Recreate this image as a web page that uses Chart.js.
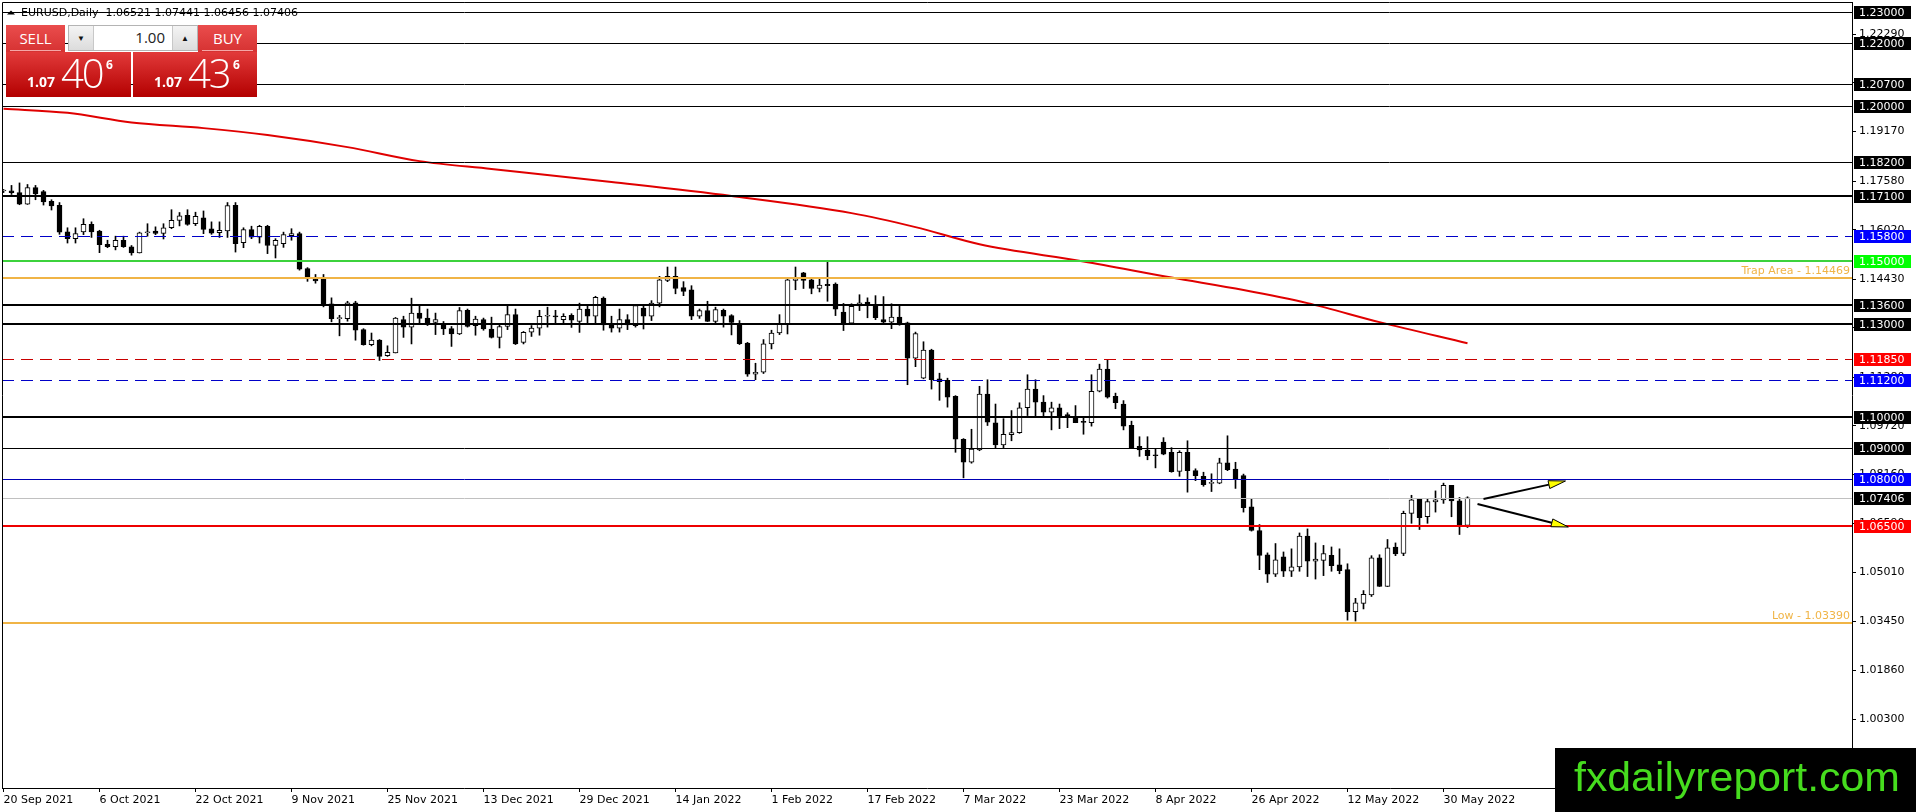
<!DOCTYPE html>
<html>
<head>
<meta charset="utf-8">
<title>EURUSD Daily</title>
<script src="https://cdn.jsdelivr.net/npm/chart.js@4.4.1/dist/chart.umd.min.js"></script>
<style>
  html, body { margin: 0; padding: 0; background: #fff; overflow: hidden; }
  #wrap { position: relative; width: 1916px; height: 812px; }
  #chart { position: absolute; left: 0; top: 0; }
  #panel { position: absolute; left: 0; top: 0; font-family: 'Open Sans', sans-serif; }
  #panel .btn { position: absolute; top: 25px; width: 59px; height: 27px; color: #fff;
    background: linear-gradient(#ea4d4d, #d63232); }
  #panel .btn span { position: absolute; left: 0; right: 0; top: 6px; text-align: center; font-size: 15px; line-height: 1; }
  #panel .btn::after { content: ''; position: absolute; left: 4px; right: 4px; bottom: 1px; height: 1px; background: rgba(255, 205, 205, 0.75); }
  #sell { left: 6px; }
  #buy { left: 198px; }
  #spin { position: absolute; left: 68px; top: 25px; width: 128px; height: 24px; border: 1px solid #b4b4b4; background: #fff; }
  #spin .arr { position: absolute; top: 0; width: 24px; height: 24px; background: linear-gradient(#f4f4f4, #dcdcdc);
    font-size: 8px; line-height: 24px; text-align: center; color: #111; }
  #spin .dn { left: 0; border-right: 1px solid #c8c8c8; }
  #spin .up { right: 0; border-left: 1px solid #c8c8c8; }
  #spin .qty { position: absolute; right: 32px; top: 4px; font-size: 15px; line-height: 1; color: #222; }
  .px { position: absolute; top: 52px; height: 45px; color: #fff; background: linear-gradient(#e23a3a, #b30000); }
  #pxs { left: 6px; width: 125px; }
  #pxb { left: 133px; width: 124px; }
  .px span { position: absolute; line-height: 1; }
  .px .sm { left: 21px; top: 23px; font-size: 14px; font-weight: 700; }
  .px .big { left: 55px; top: 1px; font-size: 40px; font-weight: 300; letter-spacing: -2px; }
  .px .sup { left: 100px; top: 7px; font-size: 12px; font-weight: 700; }
</style>
</head>
<body>
<div id="wrap">
  <canvas id="chart" width="1916" height="812"></canvas>
  <div id="panel">
    <div class="btn" id="sell"><span>SELL</span></div>
    <div id="spin"><div class="arr dn">&#9660;</div><div class="qty">1.00</div><div class="arr up">&#9650;</div></div>
    <div class="btn" id="buy"><span>BUY</span></div>
    <div class="px" id="pxs"><span class="sm"></span><span class="big"></span><span class="sup"></span></div>
    <div class="px" id="pxb"><span class="sm"></span><span class="big"></span><span class="sup"></span></div>
  </div>
</div>
<script>
// daily candles, 20 Sep 2021 .. 2 Jun 2022 (one entry per trading day)
const opens = [
  1.1726, 1.1727, 1.1721, 1.1684, 1.1737, 1.1724, 1.1693, 1.1680, 1.1595, 1.1573,
  1.1595, 1.1619, 1.1597, 1.1555, 1.1547, 1.1568, 1.1547, 1.1527, 1.1592, 1.1597,
  1.1590, 1.1608, 1.1632, 1.1648, 1.1621, 1.1640, 1.1605, 1.1592, 1.1598, 1.1680,
  1.1560, 1.1602, 1.1578, 1.1613, 1.1551, 1.1557, 1.1583, 1.1589, 1.1477, 1.1444,
  1.1445, 1.1364, 1.1316, 1.1316, 1.1367, 1.1281, 1.1233, 1.1247, 1.1197, 1.1206,
  1.1313, 1.1289, 1.1334, 1.1318, 1.1304, 1.1300, 1.1284, 1.1267, 1.1343, 1.1294,
  1.1313, 1.1283, 1.1256, 1.1291, 1.1329, 1.1240, 1.1273, 1.1286, 1.1324, 1.1324,
  1.1313, 1.1327, 1.1307, 1.1347, 1.1324, 1.1382, 1.1299, 1.1286, 1.1313, 1.1294,
  1.1350, 1.1324, 1.1366, 1.1439, 1.1452, 1.1416, 1.1409, 1.1324, 1.1342, 1.1307,
  1.1343, 1.1326, 1.1300, 1.1238, 1.1138, 1.1144, 1.1235, 1.1270, 1.1299, 1.1439,
  1.1463, 1.1441, 1.1413, 1.1426, 1.1427, 1.1337, 1.1302, 1.1357, 1.1369, 1.1358,
  1.1313, 1.1305, 1.1321, 1.1303, 1.1189, 1.1125, 1.1215, 1.1123, 1.1118, 1.1067,
  1.0929, 1.0855, 1.0895, 1.1074, 1.0982, 1.0911, 1.0944, 1.0950, 1.1030, 1.1090,
  1.1048, 1.1016, 1.1030, 1.1008, 1.1000, 1.0985, 1.0982, 1.1083, 1.1154, 1.1067,
  1.1042, 1.0974, 1.0906, 1.0894, 1.0878, 1.0920, 1.0887, 1.0826, 1.0887, 1.0828,
  1.0810, 1.0787, 1.0788, 1.0853, 1.0833, 1.0812, 1.0712, 1.0636, 1.0558, 1.0496,
  1.0551, 1.0505, 1.0519, 1.0618, 1.0537, 1.0540, 1.0556, 1.0526, 1.0510, 1.0375,
  1.0402, 1.0429, 1.0548, 1.0456, 1.0583, 1.0562, 1.0691, 1.0736, 1.0680, 1.0728,
  1.0734, 1.0781, 1.0731, 1.06521
];
const highs = [
  1.1731, 1.1744, 1.1752, 1.1747, 1.1744, 1.1728, 1.1698, 1.1689, 1.1608, 1.1608,
  1.1637, 1.1627, 1.1600, 1.1568, 1.1581, 1.1581, 1.1551, 1.1594, 1.1621, 1.1611,
  1.1621, 1.1666, 1.1657, 1.1666, 1.1658, 1.1662, 1.1627, 1.1627, 1.1689, 1.1689,
  1.1608, 1.1613, 1.1616, 1.1616, 1.1573, 1.1594, 1.1605, 1.1594, 1.1480, 1.1458,
  1.1458, 1.1383, 1.1327, 1.1372, 1.1372, 1.1284, 1.1270, 1.1249, 1.1229, 1.1320,
  1.1324, 1.1382, 1.1358, 1.1347, 1.1334, 1.1307, 1.1291, 1.1352, 1.1347, 1.1324,
  1.1318, 1.1321, 1.1297, 1.1358, 1.1347, 1.1275, 1.1294, 1.1343, 1.1353, 1.1343,
  1.1332, 1.1332, 1.1366, 1.1356, 1.1388, 1.1386, 1.1324, 1.1347, 1.1329, 1.1358,
  1.1358, 1.1374, 1.1452, 1.1482, 1.1482, 1.1435, 1.1422, 1.1347, 1.1372, 1.1353,
  1.1347, 1.1329, 1.1310, 1.1240, 1.1173, 1.1249, 1.1279, 1.1329, 1.1443, 1.1482,
  1.1465, 1.1443, 1.1443, 1.1497, 1.1431, 1.1365, 1.1364, 1.1393, 1.1383, 1.1390,
  1.1387, 1.1364, 1.1358, 1.1305, 1.1273, 1.1242, 1.1218, 1.1141, 1.1125, 1.1069,
  1.0931, 1.0961, 1.1099, 1.1120, 1.1042, 1.0995, 1.1021, 1.1046, 1.1136, 1.1120,
  1.1069, 1.1048, 1.1042, 1.1014, 1.1037, 1.0998, 1.1136, 1.1170, 1.1183, 1.1077,
  1.1053, 1.0987, 1.0937, 1.0937, 1.0897, 1.0934, 1.0902, 1.0892, 1.0924, 1.0834,
  1.0823, 1.0818, 1.0868, 1.0940, 1.0855, 1.0817, 1.0738, 1.0655, 1.0564, 1.0594,
  1.0567, 1.0577, 1.0628, 1.0641, 1.0596, 1.0588, 1.0583, 1.0577, 1.0529, 1.0418,
  1.0443, 1.0555, 1.0558, 1.0607, 1.0596, 1.0698, 1.0749, 1.0738, 1.0736, 1.0763,
  1.0788, 1.0781, 1.0742, 1.07441
];
const lows = [
  1.1721, 1.1715, 1.1682, 1.1683, 1.1698, 1.1681, 1.1665, 1.1587, 1.1559, 1.1559,
  1.1586, 1.1577, 1.1528, 1.1544, 1.1537, 1.1545, 1.1520, 1.1527, 1.1581, 1.1586,
  1.1572, 1.1605, 1.1614, 1.1616, 1.1615, 1.1589, 1.1587, 1.1577, 1.1577, 1.1530,
  1.1544, 1.1573, 1.1559, 1.1525, 1.1511, 1.1545, 1.1568, 1.1472, 1.1436, 1.1430,
  1.1354, 1.1306, 1.1261, 1.1308, 1.1247, 1.1231, 1.1229, 1.1182, 1.1195, 1.1206,
  1.1256, 1.1235, 1.1302, 1.1294, 1.1265, 1.1265, 1.1227, 1.1265, 1.1289, 1.1263,
  1.1279, 1.1254, 1.1222, 1.1281, 1.1233, 1.1235, 1.1259, 1.1263, 1.1289, 1.1300,
  1.1302, 1.1288, 1.1272, 1.1302, 1.1302, 1.1279, 1.1273, 1.1273, 1.1281, 1.1289,
  1.1283, 1.1310, 1.1354, 1.1435, 1.1396, 1.1390, 1.1313, 1.1317, 1.1307, 1.1302,
  1.1289, 1.1264, 1.1233, 1.1131, 1.1120, 1.1140, 1.1219, 1.1265, 1.1267, 1.1409,
  1.1413, 1.1396, 1.1402, 1.1372, 1.1326, 1.1278, 1.1300, 1.1342, 1.1319, 1.1313,
  1.1302, 1.1284, 1.1295, 1.1104, 1.1162, 1.1123, 1.1090, 1.1054, 1.1032, 1.0887,
  1.0805, 1.0852, 1.0892, 1.0973, 1.0899, 1.0902, 1.0924, 1.0948, 1.1005, 1.1003,
  1.1003, 1.0959, 1.0963, 1.0966, 1.0982, 1.0945, 1.0971, 1.1081, 1.1061, 1.1027,
  1.0959, 1.0899, 1.0874, 1.0863, 1.0837, 1.0879, 1.0823, 1.0810, 1.0759, 1.0796,
  1.0778, 1.0761, 1.0786, 1.0828, 1.0771, 1.0695, 1.0634, 1.0510, 1.0469, 1.0488,
  1.0488, 1.0488, 1.0505, 1.0488, 1.0480, 1.0491, 1.0505, 1.0497, 1.0348, 1.0345,
  1.0384, 1.0424, 1.0456, 1.0456, 1.0555, 1.0555, 1.0659, 1.0639, 1.0659, 1.0695,
  1.0723, 1.0680, 1.0623, 1.06456
];
const closes = [
  1.1727, 1.1721, 1.1684, 1.1737, 1.1717, 1.1691, 1.1678, 1.1594, 1.1573, 1.1589,
  1.1619, 1.1595, 1.1554, 1.1547, 1.1568, 1.1547, 1.1527, 1.1592, 1.1593, 1.1590,
  1.1608, 1.1632, 1.1646, 1.1619, 1.1645, 1.1603, 1.1591, 1.1600, 1.1679, 1.1557,
  1.1602, 1.1578, 1.1613, 1.1551, 1.1568, 1.1586, 1.1589, 1.1475, 1.1448, 1.1437,
  1.1359, 1.1316, 1.1317, 1.1367, 1.1279, 1.1233, 1.1247, 1.1195, 1.1208, 1.1318,
  1.1289, 1.1334, 1.1317, 1.1302, 1.1313, 1.1283, 1.1267, 1.1342, 1.1291, 1.1315,
  1.1283, 1.1256, 1.1291, 1.1329, 1.1235, 1.1272, 1.1286, 1.1324, 1.1325, 1.1322,
  1.1324, 1.1311, 1.1347, 1.1324, 1.1385, 1.1296, 1.1286, 1.1313, 1.1296, 1.1358,
  1.1324, 1.1366, 1.1441, 1.1452, 1.1413, 1.1404, 1.1324, 1.1342, 1.1307, 1.1345,
  1.1324, 1.1304, 1.1236, 1.1138, 1.1144, 1.1235, 1.1270, 1.1299, 1.1441, 1.1443,
  1.1439, 1.1413, 1.1424, 1.1422, 1.1347, 1.1302, 1.1356, 1.1367, 1.1361, 1.1319,
  1.1305, 1.1321, 1.1300, 1.1189, 1.1268, 1.1215, 1.1120, 1.1114, 1.1064, 1.0929,
  1.0855, 1.0897, 1.1074, 1.0984, 1.0911, 1.0945, 1.0950, 1.1030, 1.1090, 1.1048,
  1.1016, 1.1030, 1.1000, 1.1000, 1.0982, 1.0983, 1.1083, 1.1154, 1.1064, 1.1046,
  1.0971, 1.0902, 1.0895, 1.0876, 1.0876, 1.0881, 1.0825, 1.0887, 1.0828, 1.0812,
  1.0783, 1.0788, 1.0853, 1.0831, 1.0801, 1.0709, 1.0636, 1.0556, 1.0496, 1.0542,
  1.0505, 1.0519, 1.0618, 1.0537, 1.0544, 1.0562, 1.0523, 1.0507, 1.0375, 1.0404,
  1.0431, 1.0548, 1.0456, 1.0580, 1.0561, 1.0691, 1.0734, 1.0677, 1.0729, 1.0734,
  1.0781, 1.0731, 1.0652, 1.07406
];

// moving average (red line), read at a few bars
const maBars = [0, 8, 16, 25, 33, 43, 52, 61, 76, 91, 106, 114, 122, 135, 146, 155, 163, 172, 183];
const maValues = [1.1990, 1.1977, 1.1946, 1.1928, 1.1906, 1.1867, 1.1822, 1.1797, 1.1755, 1.1710,
  1.1655, 1.1610, 1.1555, 1.1500, 1.1448, 1.1408, 1.1366, 1.1305, 1.1237];

// x axis date labels and the bar each one sits on
const dateLabels = ['20 Sep 2021', '6 Oct 2021', '22 Oct 2021', '9 Nov 2021', '25 Nov 2021', '13 Dec 2021',
  '29 Dec 2021', '14 Jan 2022', '1 Feb 2022', '17 Feb 2022', '7 Mar 2022', '23 Mar 2022', '8 Apr 2022',
  '26 Apr 2022', '12 May 2022', '30 May 2022'];
const dateBars = [0, 12, 24, 36, 48, 60, 72, 84, 96, 108, 120, 132, 144, 156, 168, 180];

// price axis tick labels
const priceTicks = [1.00300, 1.01860, 1.03450, 1.05010, 1.06590, 1.08160, 1.09720, 1.11280,
  1.12870, 1.14430, 1.16020, 1.17580, 1.19170, 1.20730, 1.22290];

// horizontal levels drawn on the chart
const levelPrices = [1.23, 1.22, 1.207, 1.20, 1.182, 1.171, 1.158, 1.15, 1.14469, 1.136, 1.13,
  1.1185, 1.112, 1.10, 1.09, 1.08, 1.07406, 1.065, 1.0339];
const levelKinds = ['thin', 'thin', 'thin', 'thin', 'thin', 'thick', 'blueDash', 'green', 'orange', 'thick', 'thick',
  'redDash', 'blueDash', 'thick', 'thin', 'blue', 'bid', 'red', 'orange'];
const levelNotes = ['', '', '', '', '', '', '', '', 'Trap Area - 1.14469', '', '',
  '', '', '', '', '', '', '', 'Low - 1.03390'];

// two arrows: [bar, price] start and end
const arrowFrom = [[185.0, 1.07371], [184.25, 1.07210]];
const arrowTo = [[195.25, 1.07949], [195.6, 1.06471]];

const bid = 1.07406;
const ask = 1.07436;

const levelStyle = {
  thin:     { color: '#000000', width: 1, box: '#000000' },
  thick:    { color: '#000000', width: 2, box: '#000000' },
  blueDash: { color: '#0000c8', width: 1, dash: [12, 7], box: '#0000ff' },
  green:    { color: '#3cd23c', width: 2, box: '#00ff00' },
  orange:   { color: '#f0b446', width: 2 },
  redDash:  { color: '#c80000', width: 1, dash: [12, 7], box: '#ff0000' },
  blue:     { color: '#0000b4', width: 1, box: '#0000ff' },
  bid:      { color: '#c0c0c0', width: 1, box: '#000000' },
  red:      { color: '#ee0000', width: 2, box: '#ff0000' }
};
const FONT = '11px "DejaVu Sans"';

// trade panel prices
function fillPrice(el, p) {
  const s = p.toFixed(5);
  el.querySelector('.sm').textContent = s.slice(0, 4);
  el.querySelector('.big').textContent = s.slice(4, 6);
  el.querySelector('.sup').textContent = s.slice(6);
}
fillPrice(document.getElementById('pxs'), bid);
fillPrice(document.getElementById('pxb'), ask);

const wicks = opens.map((o, i) => ({ x: i, y: [lows[i], highs[i]] }));
const bodies = opens.map((o, i) => ({ x: i, y: [o, closes[i]] }));
const bodyColors = opens.map((o, i) => closes[i] >= o ? '#ffffff' : '#000000');
const maLine = maBars.map((b, k) => ({ x: b, y: maValues[k] }));

const overlay = {
  id: 'overlay',
  afterDatasetsDraw(chart) {
    const { ctx, chartArea: a, scales: { x, y } } = chart;
    ctx.save();
    ctx.beginPath();
    ctx.rect(a.left, a.top, a.right - a.left, a.bottom - a.top);
    ctx.clip();

    levelPrices.forEach((p, k) => {
      const st = levelStyle[levelKinds[k]];
      const py = Math.round(y.getPixelForValue(p)) + (st.width % 2 ? 0.5 : 0);
      ctx.strokeStyle = st.color;
      ctx.lineWidth = st.width;
      ctx.setLineDash(st.dash || []);
      ctx.beginPath();
      ctx.moveTo(a.left, py);
      ctx.lineTo(a.right, py);
      ctx.stroke();
      if (levelNotes[k]) {
        ctx.font = FONT;
        ctx.fillStyle = st.color;
        ctx.textAlign = 'right';
        ctx.textBaseline = 'bottom';
        ctx.fillText(levelNotes[k], a.right - 2, py - 1);
      }
    });
    ctx.setLineDash([]);

    arrowFrom.forEach((s, k) => {
      const x0 = x.getPixelForValue(s[0]), y0 = y.getPixelForValue(s[1]);
      const x1 = x.getPixelForValue(arrowTo[k][0]), y1 = y.getPixelForValue(arrowTo[k][1]);
      const ang = Math.atan2(y1 - y0, x1 - x0);
      const len = 17, half = 4;
      const bx = x1 - len * Math.cos(ang), by = y1 - len * Math.sin(ang);
      ctx.strokeStyle = '#000';
      ctx.lineWidth = 2;
      ctx.beginPath();
      ctx.moveTo(x0, y0);
      ctx.lineTo(bx, by);
      ctx.stroke();
      ctx.beginPath();
      ctx.moveTo(x1, y1);
      ctx.lineTo(bx + half * Math.sin(ang), by - half * Math.cos(ang));
      ctx.lineTo(bx - half * Math.sin(ang), by + half * Math.cos(ang));
      ctx.closePath();
      ctx.fillStyle = '#ffff00';
      ctx.fill();
      ctx.lineWidth = 1;
      ctx.stroke();
    });
    ctx.restore();
  },
  afterDraw(chart) {
    const { ctx, chartArea: a, scales: { y } } = chart;
    ctx.save();
    // frame top / left
    ctx.strokeStyle = '#000';
    ctx.lineWidth = 1;
    ctx.beginPath();
    ctx.moveTo(a.left + 0.5, a.bottom);
    ctx.lineTo(a.left + 0.5, a.top + 0.5);
    ctx.lineTo(a.right, a.top + 0.5);
    ctx.stroke();

    // price boxes on the axis
    ctx.font = FONT;
    ctx.textAlign = 'left';
    ctx.textBaseline = 'middle';
    levelPrices.forEach((p, k) => {
      const st = levelStyle[levelKinds[k]];
      if (!st.box) return;
      const py = Math.round(y.getPixelForValue(p));
      ctx.fillStyle = st.box;
      ctx.fillRect(a.right + 2, py - 6, 57, 13);
      ctx.fillStyle = '#ffffff';
      ctx.fillText(p.toFixed(5), a.right + 7, py + 1);
    });

    // header
    const n = opens.length - 1;
    ctx.fillStyle = '#000';
    ctx.beginPath();
    ctx.moveTo(7, 14.5);
    ctx.lineTo(11, 10.5);
    ctx.lineTo(15, 14.5);
    ctx.closePath();
    ctx.fill();
    ctx.fillText('EURUSD,Daily  ' + [opens[n], highs[n], lows[n], closes[n]].map(v => v.toFixed(5)).join(' '), 21, 13);

    // watermark
    ctx.fillStyle = '#000';
    ctx.fillRect(1555, 748, 361, 64);
    ctx.font = '41px "Liberation Sans"';
    ctx.textBaseline = 'alphabetic';
    const label = 'fxdailyreport.com';
    const w = ctx.measureText(label).width;
    ctx.translate(1574, 791);
    ctx.scale(326 / w, 1);
    ctx.fillStyle = '#46dc1e';
    ctx.fillText(label, 0, 0);
    ctx.restore();
  }
};

new Chart(document.getElementById('chart'), {
  type: 'bar',
  data: {
    datasets: [
      {
        type: 'line',
        data: maLine,
        borderColor: '#e00000',
        borderWidth: 2,
        pointRadius: 0,
        cubicInterpolationMode: 'monotone',
        order: 1
      },
      {
        data: bodies,
        backgroundColor: bodyColors,
        borderColor: '#000000',
        borderWidth: 1,
        borderSkipped: false,
        barThickness: 5,
        minBarLength: 1,
        grouped: false,
        order: 2
      },
      {
        data: wicks,
        backgroundColor: '#000000',
        borderWidth: 0,
        barThickness: 1,
        grouped: false,
        order: 3
      }
    ]
  },
  options: {
    responsive: false,
    devicePixelRatio: 1,
    animation: false,
    layout: { padding: { left: 2, top: 2, right: 0, bottom: 0 } },
    plugins: {
      legend: { display: false },
      tooltip: { enabled: false }
    },
    scales: {
      x: {
        type: 'linear',
        min: -0.1875,
        max: 231.0625,
        offset: false,
        grid: { drawOnChartArea: false, drawTicks: true, tickLength: 4, color: '#000', offset: false },
        border: { display: true, color: '#000', width: 1 },
        afterBuildTicks: (s) => { s.ticks = dateBars.map(v => ({ value: v })); },
        afterFit: (s) => { s.height = 24; s.paddingLeft = 0; s.paddingRight = 0; },
        ticks: {
          autoSkip: false,
          maxRotation: 0,
          align: 'start',
          padding: 2,
          color: '#000',
          font: { family: 'DejaVu Sans', size: 11 },
          callback: (v) => dateLabels[dateBars.indexOf(v)]
        }
      },
      y: {
        position: 'right',
        min: 0.9809,
        max: 1.2333,
        grid: { drawOnChartArea: false, drawTicks: true, tickLength: 4, color: '#000' },
        border: { display: true, color: '#000', width: 1 },
        afterBuildTicks: (s) => { s.ticks = priceTicks.map(v => ({ value: v })); },
        afterFit: (s) => { s.width = 64; s.paddingTop = 0; s.paddingBottom = 0; },
        ticks: {
          autoSkip: false,
          padding: 3,
          color: '#000',
          font: { family: 'DejaVu Sans', size: 11 },
          callback: (v) => v.toFixed(5)
        }
      }
    }
  },
  plugins: [overlay]
});
</script>
</body>
</html>
